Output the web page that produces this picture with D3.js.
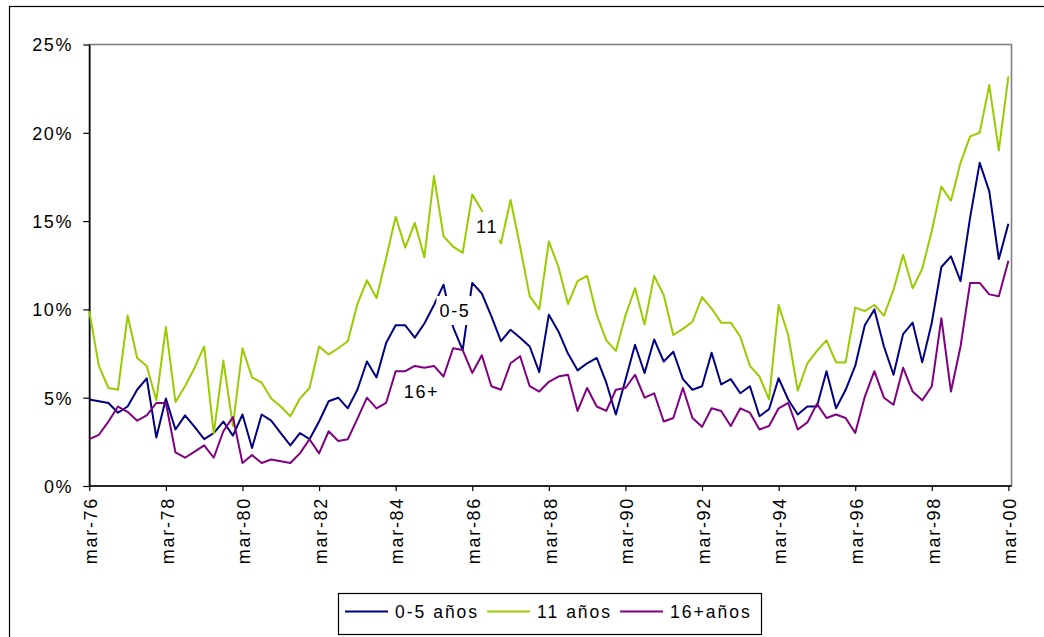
<!DOCTYPE html>
<html><head><meta charset="utf-8">
<script src="https://cdn.jsdelivr.net/npm/d3@7"></script>
<style>
html,body{margin:0;padding:0;background:#fff;}
svg{display:block;font-family:"Liberation Sans",Arial,sans-serif;}
</style></head><body>
<svg id="chart" width="1044" height="637"></svg>
<script>
// Quarterly categories, mar-76 .. mar-00
const quarterMonths = ["mar", "jun", "sep", "dic"];
const categories = [];
for (let yy = 76; yy <= 99; yy++) quarterMonths.forEach(m => categories.push(m + "-" + yy));
categories.push("mar-00");

const tickLabels = ["mar-76","mar-78","mar-80","mar-82","mar-84","mar-86","mar-88",
                    "mar-90","mar-92","mar-94","mar-96","mar-98","mar-00"];
const yTicks = [0, 0.05, 0.10, 0.15, 0.20, 0.25];

// Series values (percent)
const serie0a5 = [
  4.9, 4.8, 4.7, 4.15, 4.5, 5.45, 6.1, 2.75, 4.95, 3.2, 4.0, 3.35, 2.65, 3.0, 3.65, 2.85,
  4.05, 2.15, 4.05, 3.7, 3.0, 2.3, 3.0, 2.65, 3.65, 4.8, 5.0, 4.4, 5.45, 7.05, 6.15, 8.1,
  9.1, 9.1, 8.4, 9.2, 10.25, 11.4, 9.0, 7.7, 11.5, 10.9, 9.6, 8.2, 8.85, 8.4, 7.9, 6.45,
  9.7, 8.75, 7.5, 6.55, 6.95, 7.25, 5.85, 4.05, 6.0, 8.0, 6.4, 8.3, 7.05, 7.6, 6.05, 5.45,
  5.65, 7.55, 5.75, 6.05, 5.25, 5.65, 3.95, 4.35, 6.1, 4.9, 4.05, 4.5, 4.5, 6.5, 4.4, 5.45,
  6.8, 9.1, 10.0, 7.9, 6.3, 8.6, 9.25, 7.0, 9.25, 12.4, 13.0, 11.6, 15.2, 18.3, 16.7, 12.85,
  14.85
];
const serie11 = [
  9.9, 6.8, 5.55, 5.45, 9.65, 7.25, 6.8, 4.85, 9.0, 4.75, 5.65, 6.7, 7.9, 2.95, 7.1, 3.4,
  7.8, 6.15, 5.85, 4.95, 4.5, 3.95, 4.95, 5.55, 7.9, 7.45, 7.8, 8.2, 10.3, 11.65, 10.65, 12.9,
  15.25, 13.5, 14.9, 12.95, 17.55, 14.15, 13.55, 13.2, 16.5, 15.6, 14.6, 13.75, 16.2, 13.55, 10.75, 10.0,
  13.85, 12.4, 10.3, 11.6, 11.9, 9.7, 8.25, 7.65, 9.65, 11.2, 9.15, 11.9, 10.8, 8.55, 8.9, 9.3,
  10.7, 10.05, 9.25, 9.25, 8.45, 6.8, 6.2, 4.9, 10.25, 8.55, 5.4, 6.95, 7.65, 8.25, 7.0, 7.0,
  10.1, 9.9, 10.25, 9.65, 11.1, 13.1, 11.2, 12.3, 14.45, 16.95, 16.15, 18.3, 19.8, 20.0, 22.7, 19.0,
  23.2
];
const serie16 = [
  2.65, 2.9, 3.65, 4.5, 4.2, 3.7, 4.0, 4.7, 4.7, 1.9, 1.6, 1.95, 2.3, 1.6, 3.1, 3.9,
  1.3, 1.75, 1.3, 1.5, 1.4, 1.3, 1.85, 2.65, 1.85, 3.1, 2.55, 2.65, 3.8, 5.0, 4.4, 4.7,
  6.5, 6.5, 6.8, 6.7, 6.8, 6.2, 7.8, 7.7, 6.4, 7.4, 5.65, 5.45, 6.95, 7.35, 5.65, 5.35,
  5.9, 6.2, 6.3, 4.25, 5.55, 4.5, 4.25, 5.45, 5.55, 6.3, 5.0, 5.25, 3.65, 3.85, 5.55, 3.85,
  3.35, 4.4, 4.25, 3.4, 4.4, 4.15, 3.2, 3.4, 4.4, 4.7, 3.2, 3.6, 4.65, 3.85, 4.05, 3.85,
  3.0, 5.05, 6.5, 5.0, 4.6, 6.7, 5.35, 4.85, 5.65, 9.5, 5.35, 7.9, 11.5, 11.5, 10.85, 10.75,
  12.75
];

const seriesNames = ["0-5 años", "11 años", "16+años"];
const seriesColors = ["#000080", "#99CC00", "#800080"];
const seriesValues = [serie0a5, serie11, serie16];

// In-plot series tags: text, quarter position, value (percent) of the baseline
const tagTexts = ["11", "0-5", "16+"];
const tagQuarters = [41.55, 38.2, 34.7];
const tagValues = [14.33, 9.57, 4.98];

const svg = d3.select("#chart");
const W = 1044, H = 637;
const plot = {left: 89.3, right: 1011.5, top: 44.5, bottom: 486};

svg.append("rect").attr("width", W).attr("height", H).attr("fill", "#fff");
// outer chart frame
svg.append("rect").attr("x", 9.5).attr("y", 6.5).attr("width", 1100).attr("height", 700)
  .attr("fill", "none").attr("stroke", "#000").attr("stroke-width", 1.2);

const x = d3.scalePoint().domain(categories).range([plot.left, 1008.4]);
const xq = d3.scaleLinear().domain([0, categories.length - 1]).range([plot.left, 1008.4]);
const y = d3.scaleLinear().domain([0, 0.25]).range([plot.bottom, plot.top]);

// plot area frame
svg.append("rect").attr("x", plot.left).attr("y", plot.top)
  .attr("width", plot.right - plot.left).attr("height", plot.bottom - plot.top)
  .attr("fill", "none").attr("stroke", "#808080").attr("stroke-width", 1.6);

const fontAxis = 18, spacing = 1.7;
const ff = "'Liberation Sans', Arial, sans-serif";

// y axis
const gy = svg.append("g").attr("transform", `translate(${plot.left},0)`)
  .call(d3.axisLeft(y).tickValues(yTicks).tickFormat(d3.format(".0%")).tickSize(6).tickSizeOuter(0).tickPadding(10));
gy.select(".domain").attr("stroke", "#000").attr("stroke-width", 1.5);
gy.selectAll(".tick line").attr("stroke", "#000").attr("stroke-width", 1.2);
gy.selectAll(".tick text").attr("font-size", fontAxis).attr("fill", "#000")
  .attr("font-family", ff)
  .style("letter-spacing", spacing + "px").attr("dy", "0.36em");

// x axis
const gx = svg.append("g").attr("transform", `translate(0,${plot.bottom})`)
  .call(d3.axisBottom(x).tickValues(tickLabels).tickSize(5).tickSizeOuter(0));
gx.select(".domain").attr("stroke", "#000").attr("stroke-width", 1.5)
  .attr("d", `M${plot.left},0H${plot.right}`);
gx.selectAll(".tick line").attr("stroke", "#000").attr("stroke-width", 1.2);
gx.selectAll(".tick text").attr("font-size", fontAxis).attr("fill", "#000")
  .attr("font-family", ff)
  .style("letter-spacing", spacing + "px")
  .attr("transform", "rotate(-90)").attr("text-anchor", "end")
  .attr("x", -11).attr("y", 0).attr("dy", "0.4em");

// series lines
const line = d3.line().x((d, i) => x(categories[i])).y(d => y(d / 100));
seriesValues.forEach((vals, k) => {
  svg.append("path").datum(vals).attr("d", line)
    .attr("fill", "none").attr("stroke", seriesColors[k]).attr("stroke-width", 2)
    .attr("stroke-linejoin", "round");
});

// series tags with white backing
tagTexts.forEach((t, k) => {
  const g = svg.append("g");
  const txt = g.append("text").text(t)
    .attr("x", xq(tagQuarters[k])).attr("y", y(tagValues[k] / 100))
    .attr("text-anchor", "middle").attr("font-size", fontAxis).attr("fill", "#000")
    .style("letter-spacing", spacing + "px");
  const b = txt.node().getBBox();
  g.insert("rect", "text").attr("x", b.x - 3).attr("y", b.y - 5)
    .attr("width", b.width + 4).attr("height", b.height + 9).attr("fill", "#fff");
});

// legend
const legend = svg.append("g");
legend.append("rect").attr("x", 338.5).attr("y", 593.5).attr("width", 423).attr("height", 41)
  .attr("fill", "#fff").attr("stroke", "#000").attr("stroke-width", 1.2);
let lx = 345;
const ly = 611.5;
seriesNames.forEach((name, k) => {
  legend.append("line").attr("x1", lx).attr("x2", lx + 43).attr("y1", ly).attr("y2", ly)
    .attr("stroke", seriesColors[k]).attr("stroke-width", 2);
  const t = legend.append("text").text(name).attr("x", lx + 50).attr("y", ly + 6.3)
    .attr("font-size", 17.5).attr("fill", "#000").style("letter-spacing", "2px");
  lx += 50 + t.node().getComputedTextLength() + 8;
});
</script>
</body></html>
